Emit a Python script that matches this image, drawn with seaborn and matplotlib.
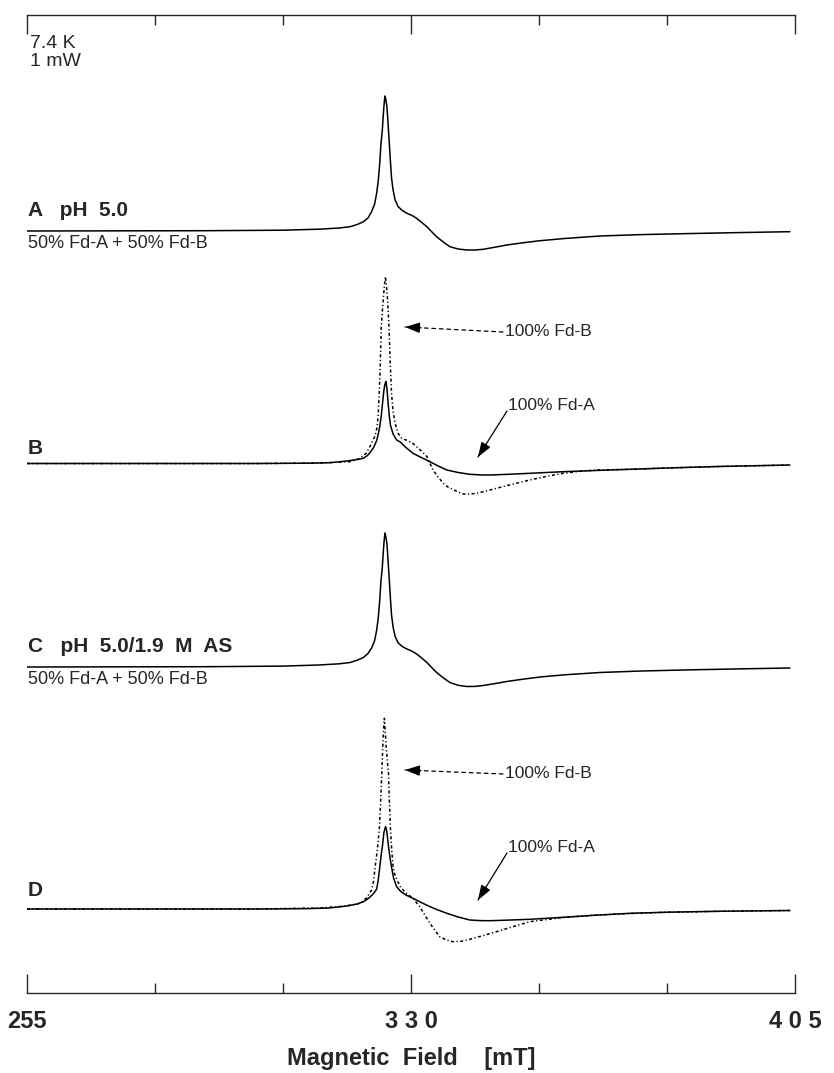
import matplotlib
matplotlib.use("Agg")
import matplotlib.pyplot as plt
import seaborn as sns
import numpy as np
import pandas as pd

# ---------------- data ----------------
# field in mT, intensity in arbitrary units (baseline = 0)
A_field = [255, 290, 305, 312, 316, 318.1, 319.5, 320.7, 321.6, 322.3, 322.9, 323.3, 323.6,
           323.9, 324.1, 324.4, 324.55, 324.7, 324.9, 325.1, 325.3, 325.45, 325.6, 325.8,
           326.0, 326.2, 326.5, 326.9, 327.5, 328.3, 329.2, 330.2, 331.1, 332.1, 333.1,
           334.0, 335.0, 336.3, 337.6, 339.2, 340.9, 342.5, 344.1, 346.4, 348.7, 352.0,
           355.2, 360.0, 366.9, 375.0, 385.0, 395.0, 404.0]
A_int = [0, 0.3, 0.8, 1.8, 3.0, 4.3, 6.5, 9.3, 13, 19.3, 27, 38, 50,
         68, 85, 101, 113, 124, 135, 131, 124, 113, 101, 85,
         68, 53, 41, 31, 24.3, 20.5, 17.7, 15.5, 12.7, 8.5, 4.3,
         -0.5, -5.7, -11, -15.7, -18, -19, -19, -18.3, -16.2, -14, -11.7,
         -9.7, -7.5, -5, -3.6, -2.5, -1.5, -0.7]

C_field = A_field
C_int = [0, 0.3, 0.9, 2.0, 3.2, 4.5, 6.8, 9.5, 13.5, 19, 26.5, 37, 49,
         67, 84, 100, 112, 123, 134, 130, 123, 112, 100, 84,
         67, 52, 40, 30.5, 24, 20.5, 18, 15.8, 13, 9, 4.5,
         -0.3, -5.5, -10.8, -15.5, -18.3, -19.5, -19.4, -18.5, -16.6, -14.5, -12.1,
         -10, -7.8, -5.5, -4, -2.8, -1.8, -1]

B_A_field = [255, 300, 310, 314.2, 317.5, 319.5, 320.7, 321.5, 322.0, 322.7, 323.3, 323.6,
             323.9, 324.2, 324.4, 324.7, 324.9, 325.1, 325.3, 325.5, 325.75, 326.0, 326.5,
             327.2, 327.9, 329.0, 330.4, 332.0, 333.7, 335.3, 337.0, 339.2, 341.5, 343.5,
             345.4, 349.0, 353.2, 359.7, 366.0, 372.8, 380.0, 390.0, 404.0]
B_A_int = [0, 0, 0.3, 0.8, 2.5, 4, 5.2, 8, 11, 16, 23, 29,
           37, 48, 58, 73, 79, 82, 75, 62, 48, 38, 29.5,
           23.5, 21.5, 16, 10.2, 6, 1.8, -2.5, -6.5, -9, -10.8, -11.4,
           -11.5, -10.8, -9.8, -8.2, -7, -5.8, -4.5, -3, -1.5]

B_B_field = [255, 300, 312, 318.1, 320.0, 321.3, 322.3, 323.0, 323.4, 323.6, 323.8, 324.0,
             324.2, 324.4, 324.6, 324.8, 325.0, 325.2, 325.4, 325.55, 325.7, 325.95, 326.2,
             326.5, 326.9, 327.5, 328.2, 329.3, 330.4, 331.7, 333.1, 334.3, 335.3, 336.3,
             337.2, 338.2, 339.2, 340.2, 341.5, 342.8, 344.7, 346.7, 350.0, 353.2, 356.5,
             359.7, 363.0, 366.3, 372.8, 380.0, 390.0, 404.0]
B_B_int = [0, 0, 0.5, 1.8, 5, 10.5, 20, 28, 37, 50, 70, 100,
           137, 152, 165, 178, 187, 178, 165, 152, 137, 100, 70,
           52, 40, 30, 25, 23, 20, 14, 7, -6.5, -13.5, -19.8,
           -23.5, -26, -28.5, -30.5, -30.5, -29.8, -27.5, -24.8, -20.5, -16.5, -12.8,
           -9.8, -7.8, -6.5, -5.8, -4.5, -3, -1.5]

D_A_field = [255, 300, 310, 314.0, 317.5, 319.5, 320.7, 321.4, 322.0, 322.7, 323.3, 323.6,
             323.9, 324.2, 324.4, 324.7, 324.9, 325.05, 325.25, 325.4, 325.6, 325.8, 326.0,
             326.2, 326.6, 327.2, 328.0, 329.0, 330.4, 332.0, 333.7, 335.3, 337.0, 339.2,
             341.5, 343.5, 345.4, 349.0, 353.2, 359.7, 366.0, 372.8, 380.0, 390.0, 404.0]
D_A_int = [0, 0, 0.4, 1, 3, 5, 7.3, 9.5, 12, 15.5, 20, 29,
           42, 55, 62, 76, 80.5, 82.3, 78, 72, 63, 55, 48,
           42, 31, 22.3, 17.5, 14, 10.7, 6.5, 2.3, -1, -4.3, -8,
           -11, -11.6, -11.7, -11.1, -10.3, -8.3, -6.2, -4.3, -3.2, -2.3, -1.5]

D_B_field = [255, 300, 312, 317, 320.0, 321.3, 322.3, 322.7, 323.0, 323.4, 323.8, 324.05,
             324.3, 324.5, 324.65, 324.8, 324.95, 325.1, 325.35, 325.6, 325.8, 326.0, 326.25,
             326.5, 326.8, 327.2, 327.9, 329.0, 330.4, 331.7, 332.7, 333.7, 334.7, 335.6,
             336.9, 338.2, 339.8, 341.5, 344.0, 346.7, 350.0, 353.2, 355.8, 359.7, 366.0,
             372.8, 380.0, 390.0, 404.0]
D_B_int = [0, 0, 1, 2.8, 5.7, 11, 19, 28, 42.3, 58, 79, 105,
           135.7, 165, 180, 190.7, 180, 165, 150, 135.7, 105, 79, 58,
           42.3, 35, 30, 22.3, 16, 10.7, 2.3, -6, -14.3, -21.5, -27.7,
           -31, -32.7, -32.3, -30.3, -26.7, -22.7, -17.5, -12.7, -11, -8.5, -6.2,
           -4.5, -3.3, -2.3, -1.5]

major_ticks = [255, 330, 405]
minor_ticks = [280, 305, 355, 380]
tick_labels = ["255", "3 3 0", "4 0 5"]

# ---------------- layout ----------------
W, H = 834, 1073
X0, X1 = 27, 795      # pixel extent of axis
Y0, Y1 = 15, 993      # top, bottom pixel of frame

sns.set_style("white")
plt.rcParams['font.family'] = ['Liberation Sans', 'DejaVu Sans']

fig = plt.figure(figsize=(W / 100, H / 100), dpi=100)
ax = fig.add_axes([X0 / W, 1 - Y1 / H, (X1 - X0) / W, (Y1 - Y0) / H])
ax.set_xlim(255, 405)
ax.set_ylim(0, Y1 - Y0)


def py(ypx):
    return Y1 - ypx


def px(xpx):
    return 255 + (xpx - X0) * 150 / (X1 - X0)


offsets = {"A": py(231), "B": py(463.5), "C": py(667), "D": py(909)}

lw = 1.1
dotstyle = (0, (2.0, 1.6, 0.8, 1.6))


def draw(field, inten, off, ls):
    df = pd.DataFrame({"field": field, "y": np.asarray(inten) + off})
    sns.lineplot(data=df, x="field", y="y", ax=ax, color="black", lw=lw,
                 linestyle=ls, sort=False, estimator=None)


draw(A_field, A_int, offsets["A"], "-")
draw(B_B_field, B_B_int, offsets["B"], dotstyle)
draw(B_A_field, B_A_int, offsets["B"], "-")
draw(C_field, C_int, offsets["C"], "-")
draw(D_B_field, D_B_int, offsets["D"], dotstyle)
draw(D_A_field, D_A_int, offsets["D"], "-")

# frame: only top & bottom lines with inward ticks
for s in ["left", "right"]:
    ax.spines[s].set_visible(False)
for s in ["top", "bottom"]:
    ax.spines[s].set_linewidth(1.0)
ax.set_yticks([])
ax.set_xticks(major_ticks)
ax.set_xticks(minor_ticks, minor=True)
ax.set_xticklabels(tick_labels)
ax.tick_params(axis="x", which="major", direction="in", length=14, width=1.0,
               top=True, bottom=True, pad=12)
ax.tick_params(axis="x", which="minor", direction="in", length=7, width=1.0,
               top=True, bottom=True)
for lab in ax.get_xticklabels():
    lab.set_fontfamily(['Liberation Sans Narrow', 'Liberation Sans'])
    lab.set_fontweight("bold")
    lab.set_fontsize(17)
ax.set_xlabel("Magnetic  Field    [mT]", fontsize=17, fontweight="bold",
              family=['Liberation Sans Narrow', 'Liberation Sans'], labelpad=10)
ax.set_ylabel("")


def ftext(x, y, s, **kw):
    fig.text(x / W, 1 - y / H, s, va="center", ha="left", **kw)


ftext(30, 44, "7.4 K", fontsize=14)
ftext(30, 62, "1 mW", fontsize=14)
ftext(28, 210, "A   pH  5.0", fontsize=15, fontweight="bold")
ftext(28, 244, "50% Fd-A + 50% Fd-B", fontsize=13)
ftext(28, 449, "B", fontsize=15, fontweight="bold")
ftext(28, 647, "C   pH  5.0/1.9  M  AS", fontsize=15, fontweight="bold")
ftext(28, 680, "50% Fd-A + 50% Fd-B", fontsize=13)
ftext(28, 890, "D", fontsize=15, fontweight="bold")


def arrow(tail, tip, ls):
    ax.annotate("", xy=(px(tip[0]), py(tip[1])), xytext=(px(tail[0]), py(tail[1])),
                arrowprops=dict(arrowstyle="-", lw=0.9, color="black", linestyle=ls,
                                shrinkA=0, shrinkB=0))
    # solid head
    dx, dy = tip[0] - tail[0], tip[1] - tail[1]
    L = np.hypot(dx, dy)
    hx, hy = tip[0] - dx / L * 16, tip[1] - dy / L * 16
    ax.annotate("", xy=(px(tip[0]), py(tip[1])), xytext=(px(hx), py(hy)),
                arrowprops=dict(arrowstyle="-|>,head_length=0.9,head_width=0.32",
                                lw=0.9, color="black", shrinkA=0, shrinkB=0))


ftext(505, 331, "100% Fd-B", fontsize=12.5)
arrow((503, 332), (405, 327), (0, (3, 3)))
ftext(508, 405, "100% Fd-A", fontsize=12.5)
arrow((507, 411), (478, 457), "-")

ftext(505, 773, "100% Fd-B", fontsize=12.5)
arrow((503, 774), (405, 770), (0, (3, 3)))
ftext(508, 847, "100% Fd-A", fontsize=12.5)
arrow((507, 853), (478, 900), "-")

fig.savefig("out.png", dpi=100)
